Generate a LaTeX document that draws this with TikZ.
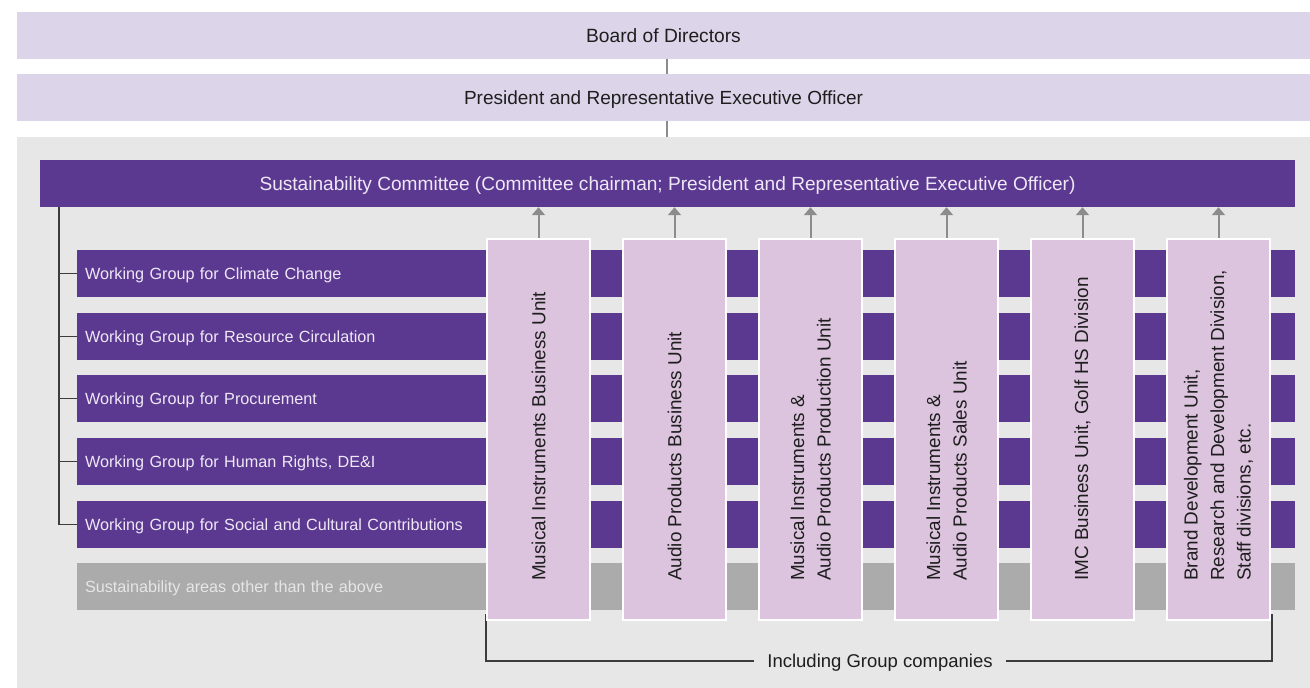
\documentclass[tikz,border=0pt]{standalone}
\usepackage{fontspec}
\setmainfont{Liberation Sans}
\usetikzlibrary{arrows.meta}
\definecolor{lav}{HTML}{DCD5EA}
\definecolor{bgc}{HTML}{E7E7E7}
\definecolor{purp}{HTML}{5C3991}
\definecolor{pinkbox}{HTML}{DCC4DE}
\definecolor{graybar}{HTML}{AAABAA}
\definecolor{wtext}{HTML}{EEE8F6}
\definecolor{gtext}{HTML}{E6E6E6}
\definecolor{txt}{HTML}{1E1E1E}
\definecolor{arrc}{HTML}{8C8C8C}
\definecolor{linec}{HTML}{3C3C3C}
\tikzset{
  topbox/.style={fill=lav, minimum width=1293, minimum height=47, inner sep=0, text=txt, text depth=0pt},
  commbox/.style={fill=purp, minimum width=1255, minimum height=47, inner sep=0, text=wtext, font=\fontsize{19.1}{22}\selectfont, text height=13.7, text depth=0pt},
  wgbox/.style={fill=purp, minimum width=1218, minimum height=47, text width=1202, align=left, inner xsep=8, inner ysep=0, text=wtext, font=\fontsize{16.2}{19}\selectfont, text height=11.6, text depth=0pt},
  otherbox/.style={wgbox, fill=graybar, text=gtext},
  unitbox/.style={fill=pinkbox, draw=white, line width=2, minimum width=103, minimum height=381, inner sep=0},
  unittext/.style={rotate=90, anchor=west, align=left, inner sep=0, text=txt, font=\fontsize{18.9}{26.5}\selectfont},
  conn/.style={draw=linec, line width=1.2},
  topconn/.style={draw=arrc, line width=2},
  arr/.style={draw=arrc, line width=2, -{Triangle[width=13,length=8]}},
}
\begin{document}
\begin{tikzpicture}[x=1pt,y=-1pt]
\useasboundingbox (0,0) rectangle (1310,688);
\fill[white] (0,0) rectangle (1310,688);
\node[fill=bgc, minimum width=1293, minimum height=551, inner sep=0] (bg) at (663.5,412.5) {};
\node[topbox, font=\fontsize{19.2}{22}\selectfont, text height=13.2] (board) at (663.5,35.5) {Board of Directors};
\node[topbox, font=\fontsize{19}{22}\selectfont, text height=13.6] (pres) at (663.5,97.5) {President and Representative Executive Officer};
\draw[topconn] ([xshift=3.5]board.south) -- ([xshift=3.5]pres.north);
\draw[topconn] ([xshift=3.5]pres.south) -- ([xshift=3.5]pres.south |- bg.north);
\node[commbox] (comm) at (667.5,183.5) {Sustainability Committee (Committee chairman; President and Representative Executive Officer)};
\node[wgbox] (wg1) at (686,273.5) {Working Group for Climate Change};
\node[wgbox] (wg2) at (686,336.5) {Working Group for Resource Circulation};
\node[wgbox] (wg3) at (686,398.5) {Working Group for Procurement};
\node[wgbox] (wg4) at (686,461.5) {Working Group for Human Rights, DE\&I};
\node[wgbox] (wg5) at (686,524.5) {Working Group for Social and Cultural Contributions};
\node[otherbox] (other) at (686,586.5) {Sustainability areas other than the above};
\coordinate (trunk) at (59,207);
\draw[conn] (trunk |- comm.south) -- (trunk |- wg5.west) -- (wg5.west);
\foreach \w in {wg1,wg2,wg3,wg4}{\draw[conn] (trunk |- \w.west) -- (\w.west);}
% bracket (drawn before units)
\node[inner sep=0, inner xsep=13, text=txt, font=\fontsize{18.5}{21}\selectfont, text height=13.2, text depth=0pt] (incl) at (880,661) {Including Group companies};
\coordinate (bl) at (486,614);
\coordinate (br) at (1272,614);
\draw[conn] (bl) |- (incl.west);
\draw[conn] (br) |- (incl.east);
% units
\node[unitbox] (u1) at (538.5,429.5) {};
\node[unitbox] (u2) at (674.5,429.5) {};
\node[unitbox] (u3) at (810.5,429.5) {};
\node[unitbox] (u4) at (946.5,429.5) {};
\node[unitbox] (u5) at (1082.5,429.5) {};
\node[unitbox] (u6) at (1218.5,429.5) {};
\node[unittext] (t1) at ([yshift=40]u1.south) {Musical Instruments Business Unit};
\node[unittext] (t2) at ([yshift=40]u2.south) {Audio Products Business Unit};
\node[unittext] (t3) at ([yshift=40]u3.south) {Musical Instruments \&\\Audio Products Production Unit};
\node[unittext] (t4) at ([yshift=40]u4.south) {Musical Instruments \&\\Audio Products Sales Unit};
\node[unittext] (t5) at ([yshift=40]u5.south) {IMC Business Unit, Golf HS Division};
\node[unittext] (t6) at ([yshift=40]u6.south) {Brand Development Unit,\\Research and Development Division,\\Staff divisions, etc.};
\foreach \u in {u1,u2,u3,u4,u5,u6}{\draw[arr] (\u.north) -- (\u.north |- comm.south);}
\end{tikzpicture}
\end{document}
